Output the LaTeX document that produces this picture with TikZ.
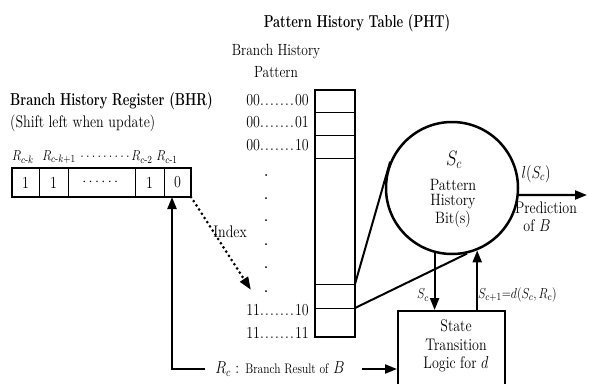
\documentclass[tikz,border=0pt]{standalone}
\usepackage{amsmath}
\usepackage{fontspec}
\usetikzlibrary{arrows.meta}
\newcommand\tallt[2][1.2]{\scalebox{1}[#1]{#2}}
\newcommand\dotrow[1]{\foreach \i in {1,...,#1}{.\kern1.2pt}}
\begin{document}
\begin{tikzpicture}[x=1pt,y=-1pt,
  txt/.style={inner sep=0pt, font=\fontsize{14}{16}\selectfont},
  big/.style={inner sep=0pt, font=\fontsize{14.3}{16}\selectfont},
  lab/.style={inner sep=0pt, font=\fontsize{13}{15}\selectfont},
  bold/.style={inner sep=0pt, font=\fontsize{12.8}{15}\selectfont},
  cell/.style={draw, line width=1pt, minimum height=29pt, inner sep=0pt, outer sep=0pt, font=\fontsize{14}{16}\selectfont},
  arr/.style={line width=2.2pt, -{Triangle[length=12pt,width=9pt]}},
  thinline/.style={line width=1pt},
  heavy/.style={line width=2.5pt}]
\clip (0,0) rectangle (589,383);
\fill[white] (0,0) rectangle (589,383);

% ---------- BHR ----------
\node[bold, anchor=west] (bhrtitle) at (10,101) {\tallt[1.35]{\textbf{Branch History Register (BHR)}}};
\node[txt, anchor=west] (bhrsub) at (10,123) {\tallt{(Shift left when update)}};
\node[lab] (lk) at (23,157) {\tallt{$R_{c\text{-}k}$}};
\node[lab] (lk1) at (59,157) {\tallt{$R_{c\text{-}k+1}$}};
\node[lab] (ldots) at (105,157) {\tallt{.\,.\,.\,.\,.\,.\,.\,.\,.}};
\node[lab] (l2) at (142,157) {\tallt{$R_{c\text{-}2}$}};
\node[lab] (l1) at (167,157) {\tallt{$R_{c\text{-}1}$}};

\node[cell, minimum width=27pt] (c1) at (25.5,182.5) {\tallt{1}};
\node[cell, minimum width=29pt] (c2) at (53.5,182.5) {\tallt{1}};
\node[cell, minimum width=67pt] (c3) at (101.5,182.5) {$\cdots\cdots$};
\node[cell, minimum width=29pt] (c4) at (149.5,182.5) {\tallt{1}};
\node[cell, minimum width=27pt] (c5) at (177.5,182.5) {\tallt{0}};
\draw[heavy] (c1.north west) rectangle (c5.south east);

% ---------- PHT ----------
\node[bold] (phttitle) at (357,23) {\tallt[1.35]{\textbf{Pattern History Table (PHT)}}};
\node[txt, font=\fontsize{13.5}{16}\selectfont] (bhp1) at (276,52) {\tallt{Branch History}};
\node[txt, font=\fontsize{13.5}{16}\selectfont] (bhp2) at (276,72) {\tallt{Pattern}};
\node[txt, anchor=east] (p0) at (309,100) {\tallt{00\dotrow{7}00}};
\node[txt, anchor=east] (p1) at (309,122) {\tallt{00\dotrow{7}01}};
\node[txt, anchor=east] (p2) at (309,145) {\tallt{00\dotrow{7}10}};
\node[txt, anchor=east] (p3) at (309,310) {\tallt{11\dotrow{7}10}};
\node[txt, anchor=east] (p4) at (309,333) {\tallt{11\dotrow{7}11}};
\foreach \yy in {175,198,220,244,267,291}
  \fill (266,\yy) circle (1pt);

\node[draw, heavy, minimum width=40pt, minimum height=247pt, anchor=north west, inner sep=0pt, outer sep=0pt] (pht) at (315,90) {};
\foreach \yy in {112,135,158,284,308}
  \draw[thinline] (315,\yy) -- (355,\yy);
\coordinate (r1) at (355,284);
\coordinate (r2) at (355,308);

% ---------- Index arrow ----------
\coordinate (idxend) at (251,290);
\draw[line width=3pt, line cap=round, dash pattern=on 0pt off 5pt, -{Triangle[length=13pt,width=9pt]}] (c5.south east) -- (idxend);
\node[txt] (index) at (230,232) {\tallt{Index}};

% ---------- Circle ----------
\node[circle, draw, heavy, minimum size=132pt, inner sep=0pt] (pbit) at (452,188) {};
\node[inner sep=0pt, font=\fontsize{17}{19}\selectfont] (sc) at (454,160) {\tallt{$S_c$}};
\node[big] (pat) at (453,185) {\tallt[1.15]{Pattern}};
\node[big] (his) at (453,202) {\tallt[1.15]{History}};
\node[big] (bits) at (453,219) {\tallt[1.15]{Bit(s)}};

\draw[line width=2pt] (r1) -- (pbit.157);
\draw[line width=2pt] (r2) -- (pbit.-77);

% ---------- output ----------
\coordinate (predout) at (587,195);
\draw[arr] (pbit.-6) -- (predout);
\node[txt] (lsc) at (536,174) {\tallt{$l(S_c)$}};
\node[txt] (pred) at (546,208) {\tallt{Prediction}};
\node[txt] (ofb) at (537,226) {\tallt{of $B$}};

% ---------- State transition ----------
\node[draw, line width=1.5pt, minimum width=107pt, minimum height=85pt, anchor=north west, inner sep=0pt] (stb) at (397,310) {};
\node[txt] (st1) at (456,326) {\tallt{State}};
\node[txt] (st2) at (456,345) {\tallt{Transition}};
\node[txt] (st3) at (456,364) {\tallt{Logic for $d$}};

\draw[arr] (pbit.-105) -- (pbit.-105 |- stb.north);
\draw[arr] (pbit.-68 |- stb.north) -- (pbit.-68);
\node[lab] (scl) at (423,295) {\tallt{$S_c$}};
\node[lab, anchor=west] (scn) at (478,295) {\tallt{$S_{c+1}{=}d(S_c,R_c)$}};

% ---------- Branch result ----------
\node[txt] (rc) at (280,369) {\tallt{$R_c$ : {\fontsize{11.5}{14}\selectfont Branch Result of} $B$}};
\coordinate (rcl) at (205,369);
\coordinate (fbx) at (172,369);
\coordinate (rcr) at (362,369);
\draw[arr] (rcl) -- (fbx) -- (fbx |- c5.south);
\draw[arr] (rcr) -- (stb.west |- rcr);
\end{tikzpicture}
\end{document}
